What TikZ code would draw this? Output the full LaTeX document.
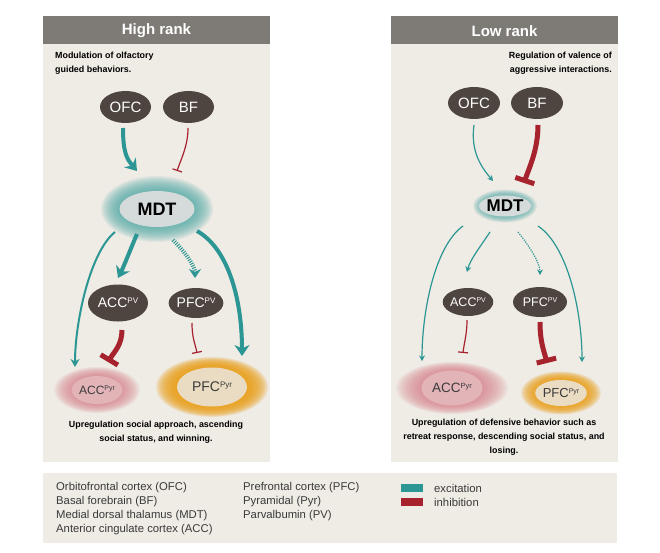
\documentclass[tikz,border=0pt]{standalone}
\usepackage{fontspec}
\setmainfont{Liberation Sans}
\usetikzlibrary{arrows.meta,calc,shapes.geometric}
\definecolor{panelbg}{HTML}{EFEBE5}
\definecolor{headgray}{HTML}{7E7A75}
\definecolor{brownnode}{HTML}{4E4440}
\definecolor{excc}{HTML}{2B9693}
\definecolor{inhc}{HTML}{A6232E}
\definecolor{mdtfill}{HTML}{D4DBDA}
\definecolor{glowteal}{HTML}{4FA9A6}
\definecolor{glowpink}{HTML}{D77E8A}
\definecolor{pyrpink}{HTML}{E2B4B8}
\definecolor{glowor}{HTML}{E9A11C}
\definecolor{pyrbeige}{HTML}{EADCC3}
\definecolor{legtxt}{HTML}{3A3A3A}
\newcommand{\myglow}[8]{%
  \foreach \k in {0,...,#8}{%
    \pgfmathsetmacro{\gw}{(#2-(#2-#4)*\k/#8)/2}%
    \pgfmathsetmacro{\gh}{(#3-(#3-#5)*\k/#8)/2}%
    \fill[#6,opacity=#7] (#1) ellipse [x radius=\gw pt, y radius=\gh pt];
  }}
% small raised superscript: #1 = size in pt, #2 = text
\newcommand{\supx}[2]{\raisebox{0.31em}{\fontsize{#1}{#1}\selectfont #2}}
\begin{document}
\begin{tikzpicture}[x=1pt,y=-1pt,
  brain/.style={ellipse, fill=brownnode, text=white, inner sep=0pt},
  ghost/.style={ellipse, inner sep=0pt, draw=none},
  core/.style={ellipse, inner sep=0pt},
  desc/.style={inner sep=0pt, font=\bfseries\fontsize{8.9}{14}\selectfont, text=black},
  title/.style={font=\bfseries\fontsize{15}{15}\selectfont, text=white, inner sep=0pt},
  legend/.style={inner sep=0pt, align=left, font=\fontsize{11.3}{14}\selectfont, text=legtxt},
  excT/.style={draw=excc, line width=4pt, -{Stealth[length=11pt,width=15pt,inset=3.5pt]}},
  excM/.style={draw=excc, line width=2pt, -{Stealth[length=8pt,width=9pt,inset=2.5pt]}},
  excS/.style={draw=excc, line width=1.2pt, -{Stealth[length=5.5pt,width=6pt,inset=1.8pt]}},
  excTd/.style={draw=excc, line width=4pt, dash pattern=on 1pt off 1.3pt, -{Stealth[length=9pt,width=12pt,inset=3pt]}},
  excSd/.style={excS, dash pattern=on 1.2pt off 1.2pt},
  inhT/.style={draw=inhc, line width=5pt, -{Bar[width=20pt]}},
  inhS/.style={draw=inhc, line width=1.2pt, -{Bar[width=10pt]}}
]
\useasboundingbox[fill=white] (0,0) rectangle (660,553);

% panels
\fill[panelbg] (43,44) rectangle (270,462);
\fill[headgray] (43,16) rectangle (270,44);
\fill[panelbg] (391,44) rectangle (618,462);
\fill[headgray] (391,16) rectangle (618,44);
\fill[panelbg] (43,473) rectangle (617,543);

\node[title] (titleL) at (156.5,31) {High rank};
\node[title] (titleR) at (504.5,31) {Low rank};

\node[desc, anchor=north west, align=left] (descL) at (55,52) {Modulation of olfactory\\guided behaviors.};
\node[desc, anchor=north east, align=right] (descR) at (612,52) {Regulation of valence of\\aggressive interactions.};
\node[desc, align=center] (outL) at (156,432) {Upregulation social approach, ascending\\social status, and winning.};
\node[desc, align=center] (outR) at (504,437.5) {Upregulation of defensive behavior such as\\retreat response, descending social status, and\\losing.};

% ===== left panel nodes =====
\node[brain, minimum width=51pt, minimum height=32pt, font=\fontsize{15}{15}\selectfont] (ofcL) at (125.5,107) {OFC};
\node[brain, minimum width=51pt, minimum height=32pt, font=\fontsize{15}{15}\selectfont] (bfL) at (188.5,107) {BF};

\node[ghost, minimum width=112pt, minimum height=66pt] (mdtLg) at (157,209) {};
\myglow{mdtLg}{112}{66}{75}{36}{glowteal}{0.095}{14}
\node[core, fill=mdtfill, minimum width=75pt, minimum height=36pt, font=\bfseries\fontsize{18}{18}\selectfont] (mdtL) at (mdtLg) {MDT};

\node[brain, minimum width=60pt, minimum height=37pt, font=\fontsize{14}{14}\selectfont] (accpvL) at (118,303) {ACC\supx{8}{PV}};
\node[brain, minimum width=52pt, minimum height=30pt, font=\fontsize{14}{14}\selectfont] (pfcpvL) at (196,303) {PFC\supx{8}{PV}};

\node[ghost, minimum width=86pt, minimum height=46pt] (accpyrLg) at (97,390) {};
\myglow{accpyrLg}{86}{46}{47}{28}{glowpink}{0.09}{14}
\node[core, fill=pyrpink, text=legtxt, minimum width=47pt, minimum height=28pt, font=\fontsize{12}{12}\selectfont] (accpyrL) at (accpyrLg) {ACC\supx{7}{Pyr}};

\node[ghost, minimum width=112pt, minimum height=60pt] (pfcpyrLg) at (212,387) {};
\myglow{pfcpyrLg}{112}{60}{70}{39}{glowor}{0.15}{16}
\node[core, fill=pyrbeige, text=legtxt, minimum width=70pt, minimum height=39pt, font=\fontsize{14}{14}\selectfont] (pfcpyrL) at (pfcpyrLg) {PFC\supx{8}{Pyr}};

% ===== left panel connectors =====
\draw[excT] ($(ofcL)+(-2.5,21)$) .. controls +(0,25) and +(-10,-12) .. ($(mdtLg)+(-20,-38)$);
\draw[inhS] ($(bfL)+(-0.5,21)$) .. controls +(0,18) and +(4,-12) .. ($(mdtLg)+(20,-38)$);
\draw[excM] ($(mdtLg)+(-42,23)$) .. controls +(-25,20) and +(0,-45) .. ($(accpyrLg)+(-22,-23)$);
\draw[excT] ($(mdtLg)+(-20,25)$) .. controls +(-6,14) and +(6,-12) .. ($(accpvL)+(0,-25)$);
\draw[excTd] ($(mdtLg)+(16,31)$) .. controls +(12,12) and +(0,-12) .. ($(pfcpvL)+(-1,-25)$);
\draw[excT] ($(mdtLg)+(40,22)$) .. controls +(32,18) and +(0,-55) .. ($(pfcpyrLg)+(30,-31)$);
\draw[inhT] ($(accpvL)+(4,27)$) .. controls +(0,15) and +(6,-10) .. ($(accpyrLg)+(11,-28)$);
\draw[inhS] ($(pfcpvL)+(-4,20)$) .. controls +(0,15) and +(-2,-10) .. ($(pfcpyrLg)+(-15,-34)$);

% ===== right panel nodes =====
\node[brain, minimum width=52pt, minimum height=32pt, font=\fontsize{15}{15}\selectfont] (ofcR) at (474,103) {OFC};
\node[brain, minimum width=52pt, minimum height=32pt, font=\fontsize{15}{15}\selectfont] (bfR) at (537,103) {BF};

\node[ghost, minimum width=64pt, minimum height=33pt] (mdtRg) at (505,206) {};
\myglow{mdtRg}{64}{33}{46}{21}{glowteal}{0.1}{10}
\node[core, fill=mdtfill, minimum width=46pt, minimum height=21pt, font=\bfseries\fontsize{17}{17}\selectfont] (mdtR) at (mdtRg) {MDT};

\node[brain, minimum width=50pt, minimum height=28pt, font=\fontsize{12.5}{12.5}\selectfont] (accpvR) at (468,302) {ACC\supx{7}{PV}};
\node[brain, minimum width=54pt, minimum height=30pt, font=\fontsize{12.5}{12.5}\selectfont] (pfcpvR) at (540,302) {PFC\supx{7}{PV}};

\node[ghost, minimum width=112pt, minimum height=52pt] (accpyrRg) at (452,388) {};
\myglow{accpyrRg}{112}{52}{61}{35}{glowpink}{0.09}{14}
\node[core, fill=pyrpink, text=legtxt, minimum width=61pt, minimum height=35pt, font=\fontsize{13.5}{13.5}\selectfont] (accpyrR) at (accpyrRg) {ACC\supx{7.5}{Pyr}};

\node[ghost, minimum width=80pt, minimum height=43pt] (pfcpyrRg) at (561,393) {};
\myglow{pfcpyrRg}{80}{43}{47}{26}{glowor}{0.15}{14}
\node[core, fill=pyrbeige, text=legtxt, minimum width=47pt, minimum height=26pt, font=\fontsize{13}{13}\selectfont] (pfcpyrR) at (pfcpyrRg) {PFC\supx{7}{Pyr}};

% ===== right panel connectors =====
\draw[excS] ($(ofcR)+(0,22)$) .. controls +(-4,28) and +(-10,-12) .. ($(mdtRg)+(-12,-25)$);
\draw[inhT] ($(bfR)+(1,22)$) .. controls +(0,25) and +(5,-15) .. ($(mdtRg)+(19,-23)$);
\draw[excS] ($(mdtRg)+(-42,20)$) .. controls +(-28,20) and +(0,-50) .. ($(accpyrRg)+(-30,-27)$);
\draw[excS] ($(mdtRg)+(-15,26)$) .. controls +(-10,15) and +(3,-12) .. ($(accpvR)+(-1,-30)$);
\draw[excSd] ($(mdtRg)+(13,26)$) .. controls +(12,15) and +(0,-12) .. ($(pfcpvR)+(0,-27)$);
\draw[excS] ($(mdtRg)+(33,20)$) .. controls +(30,20) and +(0,-50) .. ($(pfcpyrRg)+(21,-31)$);
\draw[inhS] ($(accpvR)+(-1,18)$) .. controls +(0,15) and +(1,-10) .. ($(accpyrRg)+(11,-35)$);
\draw[inhT] ($(pfcpvR)+(0,20)$) .. controls +(0,20) and +(-3,-12) .. ($(pfcpyrRg)+(-14,-30)$);

% ===== legend =====
\node[legend, anchor=north west] (leg1) at (56,482) {Orbitofrontal cortex (OFC)\\Basal forebrain (BF)\\Medial dorsal thalamus (MDT)\\Anterior cingulate cortex (ACC)};
\node[legend, anchor=north west] (leg2) at (243,482) {Prefrontal cortex (PFC)\\Pyramidal (Pyr)\\Parvalbumin (PV)};
\node[draw=none, fill=excc, minimum width=22pt, minimum height=8pt, inner sep=0pt] (swE) at (412,488) {};
\node[draw=none, fill=inhc, minimum width=22pt, minimum height=8pt, inner sep=0pt] (swI) at (412,502) {};
\node[legend, anchor=west] (legE) at (434,488) {excitation};
\node[legend, anchor=west] (legI) at (434,502) {inhibition};
\end{tikzpicture}
\end{document}
